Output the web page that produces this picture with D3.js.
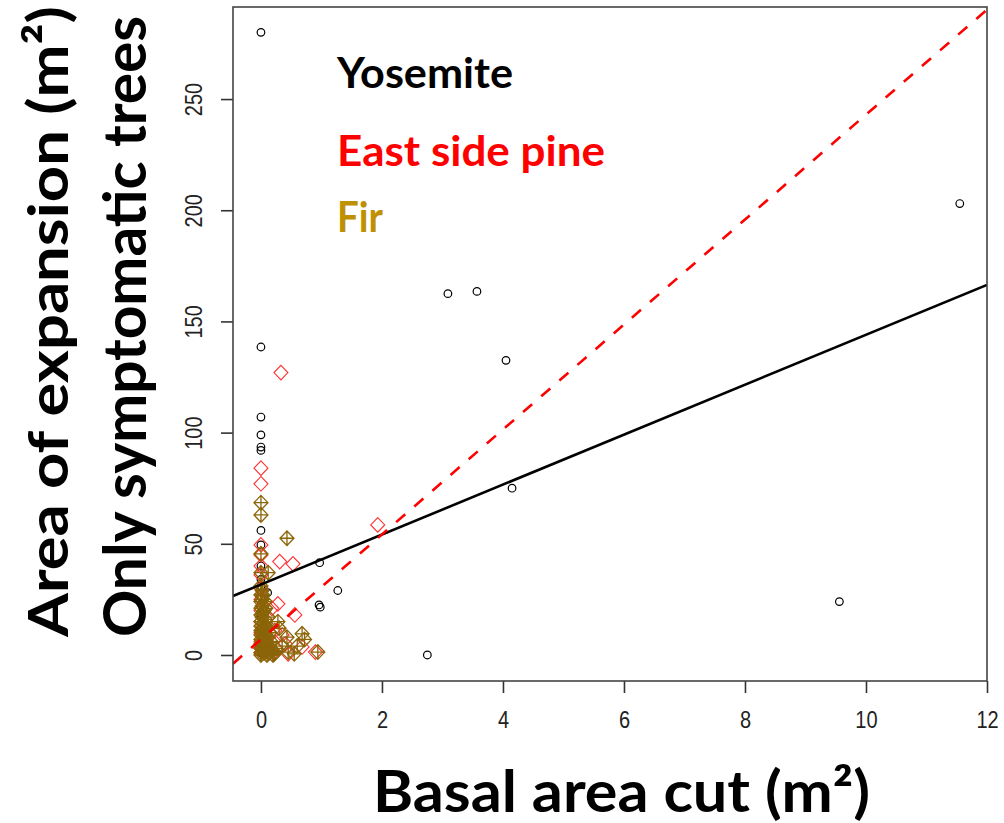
<!DOCTYPE html>
<html>
<head>
<meta charset="utf-8">
<script src="https://cdn.jsdelivr.net/npm/d3@7"></script>
<style>
  html, body { margin: 0; padding: 0; background: #fff; }
  svg { display: block; }
</style>
</head>
<body>
<svg id="chart" width="1004" height="823"></svg>
<script>
// ---------- data ----------
const xTicks = [0, 2, 4, 6, 8, 10, 12];
const yTicks = [0, 50, 100, 150, 200, 250];

const yosemiteX = [0, 0, 0, 0, 0, 0, 0, 0, 0, 0, 0, 0, 0, 0, 0, 0, 0, 0,
  0.11, 0.97, 1.27, 0.96, 0.98, 2.75, 3.09, 3.57, 4.05, 4.15, 9.56, 11.55];
const yosemiteY = [280, 138.5, 107, 99, 93.5, 92, 56, 49.5, 40, 34, 31, 26, 22, 18, 12, 8, 4, 1,
  28, 41.5, 29, 22.5, 21.5, 0, 162.5, 163.5, 132.5, 75, 24, 203];

const pineX = [0, 0, 0, 0, 0, 0, 0, 0, 0, 0, 0, 0, 0, 0,
  0.33, 1.93, 0.31, 0.53, 0.18, 0.56, 0.35, 0.23, 0.68, 0.9, 0.28, 0.1, 0.45, 0.2, 0.4];
const pineY = [84, 77, 49.5, 45, 40, 36, 30, 25, 20, 15, 10, 6, 3, 1,
  127, 58.5, 42, 41, 21, 18, 9, 11, 3.6, 1.3, 23, 8, 0.5, 1, 5];

const firX = [0, 0, 0, 0, 0, 0, 0, 0, 0, 0, 0, 0, 0, 0, 0, 0, 0, 0,
  0.05, 0.05, 0.05, 0.05, 0.05, 0.1, 0.1, 0.1, 0.1, 0.15, 0.15,
  0.12, 0.43, 0.28, 0.43, 0.68, 0.72, 0.94, 0.45, 0.23, 0.35, 0.6, 0.2, 0.55, 0.3,
  0.02, 0.02, 0.02, 0.02, 0.02, 0.02, 0.03, 0.03, 0.03, 0.03,
  0.07, 0.07, 0.07, 0.07, 0.07, 0.08, 0.08, 0.08,
  0.12, 0.12, 0.12, 0.13, 0.17, 0.18, 0.22, 0.25];
const firY = [68.5, 63, 45.5, 37, 31, 27, 24, 21, 18, 15, 13, 11, 9, 7, 5, 3, 1, 0,
  20, 14, 8, 4, 1, 12, 6, 2, 0, 10, 3,
  37, 52.5, 15, 8, 9.5, 7, 1.3, 1.3, 1, 4, 4, 0, 0.5, 12,
  29, 25, 22, 17, 10, 3, 27, 19, 12, 6,
  24, 16, 10, 5, 1.5, 21, 13, 2.5,
  17, 8, 4, 1, 6, 2, 0.5, 3];

// fitted lines: [intercept, slope]
const yosemiteFit = [31.7, 11.23];
const pineFit = [7.0, 23.6];

const legendLabels = ["Yosemite", "East side pine", "Fir"];
const legendColors = ["#000000", "#ff0000", "#bf9000"];

// ---------- layout ----------
const svg = d3.select("#chart");
const box = { left: 233, right: 987, top: 7, bottom: 681 };

const x = d3.scaleLinear().domain([-0.462, 12.0]).range([box.left, box.right]);
const y = d3.scaleLinear().domain([-11.7, 291.4]).range([box.bottom, box.top]);

const firColor = "#8b6508";
const tickFont = "'Liberation Sans', Arial, sans-serif";
const titleFont = "Lato, 'Open Sans', sans-serif";

svg.append("defs").append("clipPath").attr("id", "plotclip")
  .append("rect")
  .attr("x", box.left).attr("y", box.top)
  .attr("width", box.right - box.left).attr("height", box.bottom - box.top);

// ---------- axes ----------
const xAxis = d3.axisBottom(x).tickValues(xTicks).tickSize(12).tickPadding(5).tickFormat(d3.format("d"));
const gx = svg.append("g").attr("transform", `translate(0,${box.bottom})`).call(xAxis);
gx.select(".domain").remove();
gx.selectAll(".tick line").attr("stroke", "#333").attr("stroke-width", 1.6);
gx.selectAll(".tick text")
  .attr("fill", "#222")
  .style("font-family", tickFont)
  .style("font-size", "20px")
  .attr("dy", null)
  .attr("y", 0)
  .attr("transform", "translate(0,47) scale(1,1.15)");

const yAxis = d3.axisLeft(y).tickValues(yTicks).tickSize(12).tickFormat(d3.format("d"));
const gy = svg.append("g").attr("transform", `translate(${box.left},0)`).call(yAxis);
gy.select(".domain").remove();
gy.selectAll(".tick line").attr("stroke", "#333").attr("stroke-width", 1.6);
gy.selectAll(".tick text")
  .attr("fill", "#222")
  .style("font-family", tickFont)
  .style("font-size", "20px")
  .attr("x", null).attr("dy", null)
  .attr("text-anchor", "middle")
  .attr("transform", "translate(-31,0) rotate(-90) scale(1,1.15)");

// ---------- points ----------
const plot = svg.append("g").attr("clip-path", "url(#plotclip)");

const yos = d3.zip(yosemiteX, yosemiteY);
const pine = d3.zip(pineX, pineY);
const fir = d3.zip(firX, firY);

plot.append("g").selectAll("circle").data(yos).join("circle")
  .attr("cx", d => x(d[0])).attr("cy", d => y(d[1]))
  .attr("r", 3.8)
  .attr("fill", "none").attr("stroke", "#000").attr("stroke-width", 1.2);

const diamond = "M0,-7.3L7,0L0,7.3L-7,0Z";
plot.append("g").selectAll("path").data(pine).join("path")
  .attr("d", diamond)
  .attr("transform", d => `translate(${x(d[0])},${y(d[1])})`)
  .attr("fill", "none").attr("stroke", "#ff3030").attr("stroke-width", 1.1);

plot.append("g").selectAll("path").data(fir).join("path")
  .attr("d", diamond + "M0,-7.3V7.3M-7,0H7")
  .attr("transform", d => `translate(${x(d[0])},${y(d[1])})`)
  .attr("fill", "none").attr("stroke", firColor).attr("stroke-width", 1.3);

// ---------- fitted lines ----------
const xs = x.domain();
const lineGen = d3.line().x(d => x(d[0])).y(d => y(d[1]));
function fitPts(c) { return xs.map(v => [v, c[0] + c[1] * v]); }

plot.append("path").datum(fitPts(yosemiteFit)).attr("d", lineGen)
  .attr("fill", "none").attr("stroke", "#000").attr("stroke-width", 2.6);

plot.append("path").datum(fitPts(pineFit)).attr("d", lineGen)
  .attr("fill", "none").attr("stroke", "#ff0000").attr("stroke-width", 2.6)
  .attr("stroke-dasharray", "12,12");

// ---------- box ----------
svg.append("rect")
  .attr("x", box.left).attr("y", box.top)
  .attr("width", box.right - box.left).attr("height", box.bottom - box.top)
  .attr("fill", "none").attr("stroke", "#444").attr("stroke-width", 1.6);

// ---------- legend text ----------
const legendBaselines = [88, 166, 232];
const legendWidths = [176, 268, 46];
svg.append("g").selectAll("text").data(legendLabels).join("text")
  .attr("x", 337)
  .attr("y", (d, i) => legendBaselines[i])
  .attr("fill", (d, i) => legendColors[i])
  .attr("textLength", (d, i) => legendWidths[i])
  .attr("lengthAdjust", "spacingAndGlyphs")
  .style("font-family", titleFont)
  .style("font-weight", "bold")
  .style("font-size", "42px")
  .text(d => d);

// ---------- axis titles ----------
svg.append("text")
  .attr("x", 373).attr("y", 812)
  .attr("textLength", 497).attr("lengthAdjust", "spacingAndGlyphs")
  .style("font-family", titleFont).style("font-weight", "bold").style("font-size", "58px")
  .attr("fill", "#000")
  .text("Basal area cut (m²)");

svg.append("text")
  .attr("transform", "translate(68,637) rotate(-90)")
  .attr("textLength", 631).attr("lengthAdjust", "spacingAndGlyphs")
  .style("font-family", titleFont).style("font-weight", "bold").style("font-size", "56px")
  .attr("fill", "#000")
  .text("Area of expansion (m²)");

svg.append("text")
  .attr("transform", "translate(146,637) rotate(-90)")
  .attr("textLength", 621).attr("lengthAdjust", "spacingAndGlyphs")
  .style("font-family", titleFont).style("font-weight", "bold").style("font-size", "59px")
  .attr("fill", "#000")
  .text("Only symptomatic trees");
</script>
</body>
</html>
